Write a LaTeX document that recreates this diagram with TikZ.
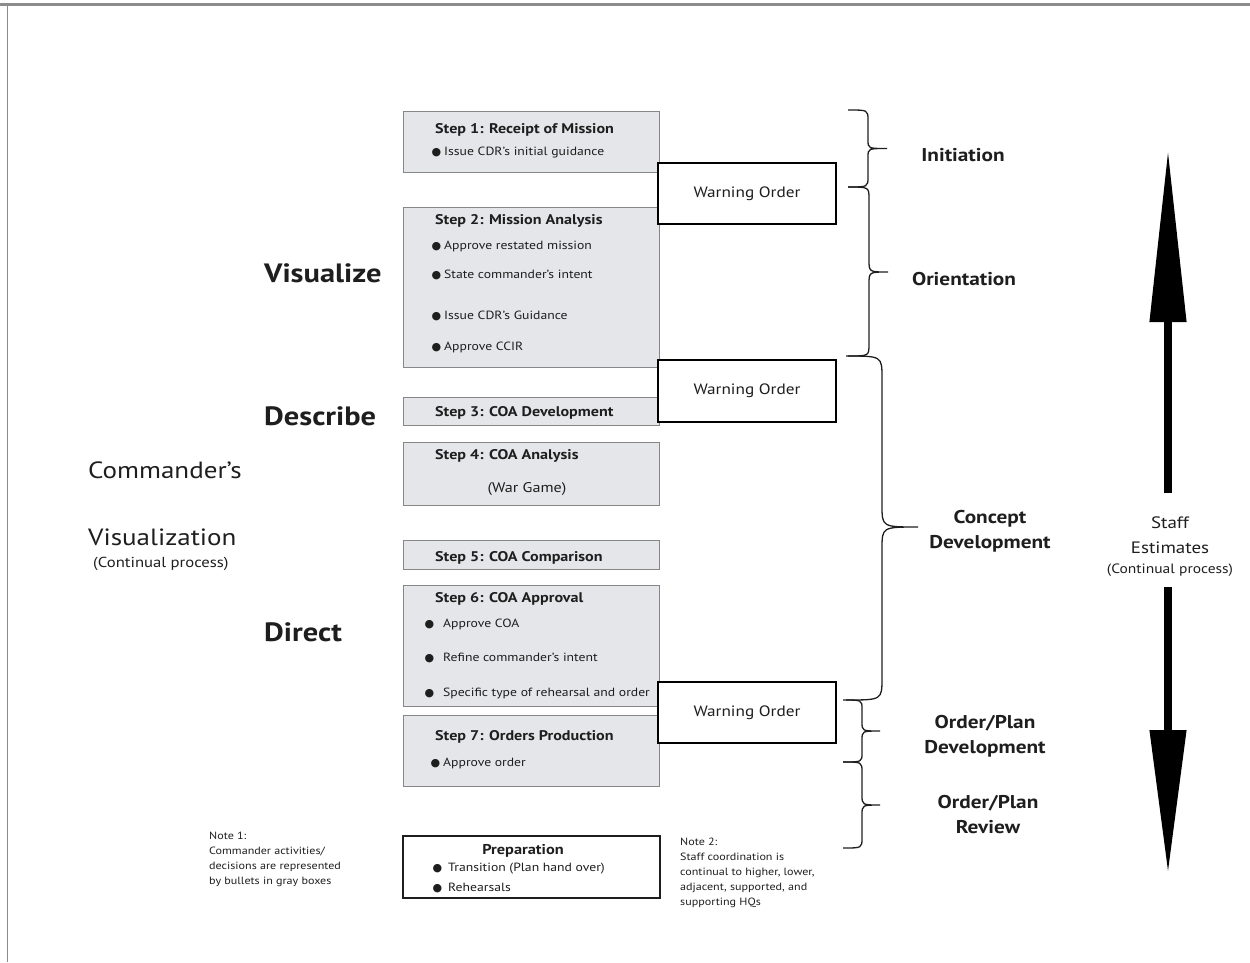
\documentclass[tikz,border=0pt]{standalone}
\usepackage{fontspec}
\setmainfont[FakeStretch=1.15]{PT Sans}
\newfontfamily\symfont{DejaVu Sans}
\usetikzlibrary{arrows.meta}

\definecolor{boxfill}{RGB}{228,230,233}
\definecolor{boxedge}{RGB}{135,135,135}
\definecolor{ink}{RGB}{30,30,30}
\definecolor{framegray}{RGB}{140,140,140}

% round bullet placed to the left of the item text
\newcommand\blt[1]{\llap{{\symfont\fontsize{11}{11}\selectfont ●}\hspace{#1}}}

\begin{document}
\begin{tikzpicture}[x=1pt,y=-1pt,
  every node/.style={text=ink},
  graybox/.style={draw=boxedge, fill=boxfill, line width=0.9pt, anchor=north west,
    minimum width=256pt, inner sep=0pt, outer sep=0pt},
  warnbox/.style={draw=black, fill=white, line width=2.6pt, anchor=north west,
    minimum width=178pt, inner sep=0pt, outer sep=0pt,
    font=\fontsize{15}{18}\selectfont},
  steptitle/.style={anchor=base west, inner sep=0pt, font=\bfseries\fontsize{14}{16}\selectfont},
  stepitem/.style={anchor=base west, inner sep=0pt, font=\fontsize{11.9}{14}\selectfont},
  verb/.style={anchor=base west, inner sep=0pt, font=\bfseries\fontsize{26.5}{30}\selectfont},
  phase/.style={inner sep=0pt, align=center, font=\bfseries\fontsize{18.5}{25}\selectfont},
  note/.style={anchor=north west, inner sep=0pt, align=left, font=\fontsize{10.5}{15}\selectfont},
  phasebrace/.style={draw=ink, line width=1.3pt},
  bigarrow/.style={draw=black, line width=7.5pt}
]
\useasboundingbox (0,0) rectangle (1250,962);

% page frame
\draw[framegray, line width=3pt] (0,4.5) -- (1250,4.5);
\draw[framegray, line width=1.6pt] (7.5,3) -- (7.5,962);

% planning steps
\node[graybox, minimum height=61pt]  (s1) at (403,111) {};
\node[graybox, minimum height=160pt] (s2) at (403,207) {};
\node[graybox, minimum height=28pt]  (s3) at (403,397) {};
\node[graybox, minimum height=63pt]  (s4) at (403,442) {};
\node[graybox, minimum height=29pt]  (s5) at (403,540) {};
\node[graybox, minimum height=121pt] (s6) at (403,585) {};
\node[graybox, minimum height=71pt]  (s7) at (403,715) {};

\node[steptitle] (t1) at (435,133) {Step 1: Receipt of Mission};
\node[stepitem] (t1a) at (444,155) {\blt{3pt}Issue CDR’s initial guidance};

\node[steptitle] (t2) at (435,224) {Step 2: Mission Analysis};
\node[stepitem] (t2a) at (444,249) {\blt{3pt}Approve restated mission};
\node[stepitem] (t2b) at (444,278) {\blt{3pt}State commander’s intent};
\node[stepitem] (t2c) at (444,319) {\blt{3pt}Issue CDR’s Guidance};
\node[stepitem] (t2d) at (444,350) {\blt{3pt}Approve CCIR};

\node[steptitle] (t3) at (435,416) {Step 3: COA Development};

\node[steptitle] (t4) at (435,459) {Step 4: COA Analysis};
\node[anchor=base, inner sep=0pt, font=\fontsize{14}{16}\selectfont] (t4a) at (527,492) {(War Game)};

\node[steptitle] (t5) at (435,561) {Step 5: COA Comparison};

\node[steptitle] (t6) at (435,602) {Step 6: COA Approval};
\node[stepitem] (t6a) at (443,627) {\blt{9pt}Approve COA};
\node[stepitem] (t6b) at (443,661) {\blt{9pt}Refine commander’s intent};
\node[stepitem] (t6c) at (443,696) {\blt{9pt}Specific type of rehearsal and order};

\node[steptitle] (t7) at (435,740) {Step 7: Orders Production};
\node[stepitem] (t7a) at (443,766) {\blt{3pt}Approve order};

% warning orders
\node[warnbox, minimum height=61pt] (w1) at (658,163) {Warning Order\hspace{8pt}};
\node[warnbox, minimum height=62pt] (w2) at (658,360) {Warning Order\hspace{8pt}};
\node[warnbox, minimum height=61pt] (w3) at (658,682) {Warning Order\hspace{8pt}};

% preparation
\node[draw=ink, fill=white, line width=1.8pt, anchor=north west, minimum width=257pt,
  minimum height=62pt, inner sep=0pt, outer sep=0pt] (prep) at (403,836) {};
\node[anchor=base, inner sep=0pt, font=\bfseries\fontsize{14.2}{16}\selectfont] (prept) at (523,854) {Preparation};
\node[stepitem] (prepa) at (448,871) {\blt{6pt}Transition (Plan hand over)};
\node[stepitem] (prepb) at (448,891) {\blt{6pt}Rehearsals};

% commander's visualization
\node[verb] (vis) at (264,282) {Visualize};
\node[verb] (des) at (264,425) {Describe};
\node[verb] (dir) at (264,641) {Direct};
\node[anchor=base west, inner sep=0pt, font=\fontsize{23.5}{26}\selectfont] (cmd) at (88,478) {Commander’s};
\node[anchor=base west, inner sep=0pt, font=\fontsize{23.5}{26}\selectfont] (cvis) at (88,545) {Visualization};
\node[anchor=base west, inner sep=0pt, font=\fontsize{14.5}{16}\selectfont] (ccont) at (93,567) {(Continual process)};

% notes
\node[note] (n1) at (209,832) {Note 1:\\Commander activities/\\decisions are represented\\by bullets in gray boxes};
\node[note] (n2) at (680,838) {Note 2:\\Staff coordination is\\continual to higher, lower,\\adjacent, supported, and\\supporting HQs};

% phase braces: end, straight run, pointed middle, straight run, end
\draw[phasebrace] (848,110) .. controls (868,110) .. (868,120) -- (868,140)
  .. controls (868,148.5) .. (887,148.5) .. controls (868,148.5) .. (868,157)
  -- (868,177) .. controls (868,187) .. (848,187);
\draw[phasebrace] (848,187) .. controls (869,187) .. (869,199) -- (869,260)
  .. controls (869,272) .. (888,272) .. controls (869,272) .. (869,284)
  -- (869,344) .. controls (869,356) .. (848,356);
\draw[phasebrace] (846,356) .. controls (882,356) .. (882,378) -- (882,505)
  .. controls (882,527) .. (918,527) .. controls (882,527) .. (882,549)
  -- (882,678) .. controls (882,700) .. (846,700);
\draw[phasebrace] (843,700) .. controls (862,700) .. (862,709) -- (862,722)
  .. controls (862,731) .. (880,731) .. controls (862,731) .. (862,740)
  -- (862,753) .. controls (862,762) .. (843,762);
\draw[phasebrace] (843,762) .. controls (862,762) .. (862,772) -- (862,795)
  .. controls (862,805) .. (880,805) .. controls (862,805) .. (862,815)
  -- (862,838) .. controls (862,848) .. (843,848);

\node[phase, anchor=base] (pinit) at (963,161) {Initiation};
\node[phase, anchor=base] (porient) at (964,285) {Orientation};
\node[phase] (pconc) at (990,531) {Concept\\Development};
\node[phase] (pdev) at (985,736) {Order/Plan\\Development};
\node[phase] (prev) at (988,815) {Order/Plan\\Review};

% staff estimates
\node[inner sep=0pt, align=center, font=\fontsize{16.5}{25}\selectfont] (staff) at (1170,535) {Staff\\Estimates};
\node[anchor=base, inner sep=0pt, font=\fontsize{13.5}{14}\selectfont] (scont) at (1170,573) {(Continual process)};
\coordinate (upfoot) at (1168,493);
\coordinate (uptip) at (1168,150);
\coordinate (downfoot) at (1168,587);
\coordinate (downtip) at (1168,873);
\draw[bigarrow, -{Triangle[length=172pt, width=35pt]}] (upfoot) -- (uptip);
\draw[bigarrow, -{Triangle[length=143pt, width=35pt]}] (downfoot) -- (downtip);
\end{tikzpicture}
\end{document}
